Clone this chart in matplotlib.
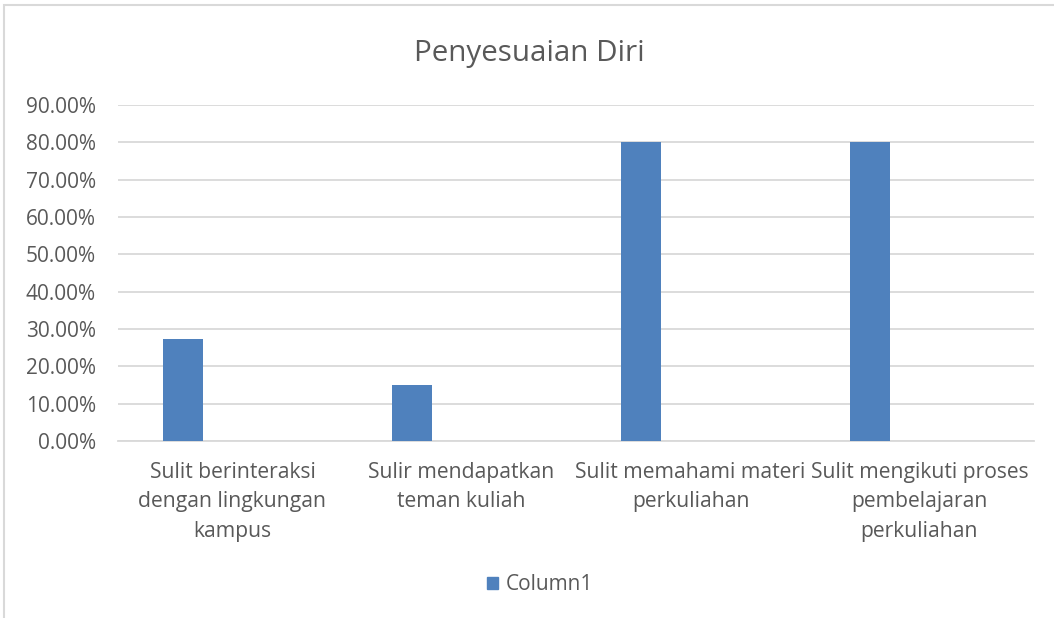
import matplotlib
matplotlib.use("Agg")
import matplotlib.pyplot as plt
from matplotlib.patches import Rectangle, Patch
from matplotlib.ticker import PercentFormatter
import numpy as np

categories = ["Sulit berinteraksi\ndengan lingkungan\nkampus",
              "Sulir mendapatkan\nteman kuliah",
              "Sulit memahami materi\nperkuliahan",
              "Sulit mengikuti proses\npembelajaran\nperkuliahan"]
values = [0.273, 0.15, 0.80, 0.80]
series_name = "Column1"
title = "Penyesuaian Diri"

TEXT = "#595959"
BAR = "#4f81bd"
GRID = "#d9d9d9"
plt.rcParams['font.family'] = ['Open Sans', 'DejaVu Sans']

W, H = 1054, 618
fig = plt.figure(figsize=(W / 100, H / 100), dpi=100)
ax = fig.add_axes([118 / W, 1 - 441 / H, (1034 - 118) / W, (441 - 105) / H])

x = np.arange(len(categories))
ax.bar(x - 0.218, values, width=0.175, color=BAR, zorder=3)

ax.set_xlim(-0.5, len(categories) - 0.5)
ax.set_ylim(0, 0.9)
ax.set_yticks(np.arange(0, 0.91, 0.1))
ax.yaxis.set_major_formatter(PercentFormatter(1.0, decimals=2))
ax.set_xticks(x)
ax.set_xticklabels(categories, linespacing=1.53)
ax.tick_params(axis='x', length=0, pad=15, labelsize=15.2, labelcolor=TEXT)
ax.tick_params(axis='y', length=0, pad=16, labelsize=15, labelcolor=TEXT)
for lab in ax.get_yticklabels():
    lab.set_horizontalalignment('right')
ax.grid(axis='y', color=GRID, linewidth=1.3, zorder=0)
for s in ['top', 'right', 'left']:
    ax.spines[s].set_visible(False)
ax.spines['bottom'].set_color(GRID)
ax.spines['bottom'].set_linewidth(1.3)

fig.text(529 / W, 1 - 53 / H, title, ha='center', va='center', fontsize=21.3, color=TEXT)

handles = [Patch(facecolor=BAR, edgecolor=BAR, label=series_name)]
fig.legend(handles=handles, loc='center', bbox_to_anchor=(540 / W, 1 - 585 / H),
           frameon=False, fontsize=15, labelcolor=TEXT, handlelength=0.55, handleheight=0.55,
           handletextpad=0.35)

fig.add_artist(Rectangle((4 / W, -0.1), 1.2, 1 - 5 / H + 0.1, transform=fig.transFigure,
                         fill=False, edgecolor=GRID, linewidth=1.5))

fig.savefig("out.png", dpi=100, facecolor="white")
